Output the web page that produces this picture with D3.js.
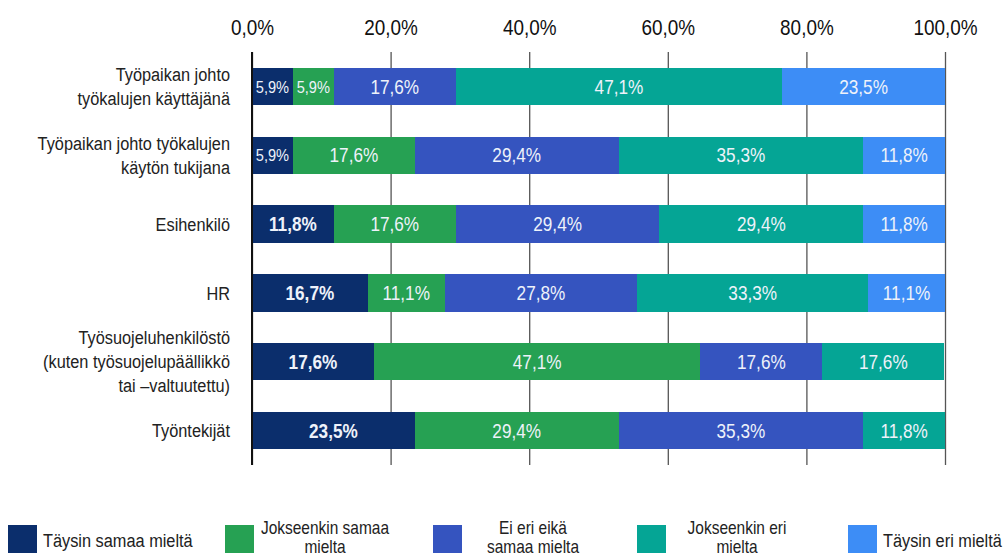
<!DOCTYPE html>
<html>
<head>
<meta charset="utf-8">
<script src="https://cdn.jsdelivr.net/npm/d3@7"></script>
<style>
  html, body { margin: 0; padding: 0; background: #fff; }
  svg { display: block; }
  text { font-family: "Liberation Sans", Arial, sans-serif; }
</style>
</head>
<body>
<div id="chart"></div>
<script>
// categories (one line per array item)
const categories = [
  ['Työpaikan johto', 'työkalujen käyttäjänä'],
  ['Työpaikan johto työkalujen', 'käytön tukijana'],
  ['Esihenkilö'],
  ['HR'],
  ['Työsuojeluhenkilöstö', '(kuten työsuojelupäällikkö', 'tai –valtuutettu)'],
  ['Työntekijät']
];

// series values (%), one per category
const taysinSamaa = [5.9, 5.9, 11.8, 16.7, 17.6, 23.5];
const jokseenkinSamaa = [5.9, 17.6, 17.6, 11.1, 47.1, 29.4];
const eiEriEika = [17.6, 29.4, 29.4, 27.8, 17.6, 35.3];
const jokseenkinEri = [47.1, 35.3, 29.4, 33.3, 17.6, 11.8];
const taysinEri = [23.5, 11.8, 11.8, 11.1, 0, 0];

const seriesNames = [
  ['Täysin samaa mieltä'],
  ['Jokseenkin samaa', 'mielta'],
  ['Ei eri eikä', 'samaa mielta'],
  ['Jokseenkin eri', 'mielta'],
  ['Täysin eri mieltä']
];
const seriesColors = ['#0b2e6c', '#26a153', '#3554bf', '#05a595', '#3d8df6'];

const xTicks = [0, 20, 40, 60, 80, 100];

const width = 1008, height = 558;
const margin = { top: 52, right: 63, bottom: 93, left: 252 };
const narrow = 0.86; // the original uses a condensed face

const svg = d3.select('#chart')
  .append('svg')
    .attr('width', width)
    .attr('height', height);

const keys = ['s0', 's1', 's2', 's3', 's4'];
const allSeries = [taysinSamaa, jokseenkinSamaa, eiEriEika, jokseenkinEri, taysinEri];
const rows = categories.map((c, i) => {
  const r = { id: i };
  keys.forEach((k, j) => r[k] = allSeries[j][i]);
  return r;
});

const stacked = d3.stack().keys(keys)(rows);

const xScale = d3.scaleLinear()
  .domain([0, 100])
  .range([margin.left, width - margin.right]);

const yScale = d3.scaleBand()
  .domain(rows.map(d => d.id))
  .range([margin.top, height - margin.bottom])
  .paddingInner(0.46)
  .paddingOuter(0.23);

const fmt = v => d3.format('.1f')(v).replace('.', ',') + '%';

// gridlines + top tick labels
const axisTop = d3.axisTop(xScale)
  .tickValues(xTicks)
  .tickSize(-(height - margin.bottom - margin.top))
  .tickFormat(fmt);

svg.append('g')
  .attr('transform', `translate(0, ${margin.top})`)
  .call(axisTop)
  .call(g => g.select('.domain').remove())
  .call(g => g.selectAll('.tick line').attr('stroke', '#555').attr('stroke-width', 1.3))
  .call(g => g.selectAll('.tick text')
    .attr('y', 0)
    .attr('dy', 0)
    .attr('transform', `translate(0, -17) scale(${narrow}, 1)`)
    .attr('fill', '#111')
    .style('font-family', '"Liberation Sans", Arial, sans-serif')
    .style('font-size', '22px'));

// bars
const layer = svg.append('g')
  .selectAll('g')
  .data(stacked)
  .join('g')
    .attr('fill', (d, i) => seriesColors[i]);

layer.selectAll('rect')
  .data(d => d)
  .join('rect')
    .attr('shape-rendering', 'crispEdges')
    .attr('x', d => xScale(d[0]))
    .attr('y', d => yScale(d.data.id))
    .attr('width', d => xScale(d[1]) - xScale(d[0]))
    .attr('height', yScale.bandwidth());

// bar value labels
layer.each(function(series, si) {
  d3.select(this).selectAll('text')
    .data(series.filter(d => d[1] - d[0] > 0))
    .join('text')
      .attr('transform', d => `translate(${(xScale(d[0]) + xScale(d[1])) / 2}, ${yScale(d.data.id) + yScale.bandwidth() / 2}) scale(${narrow}, 1)`)
      .attr('dy', '0.36em')
      .attr('text-anchor', 'middle')
      .attr('fill', '#eef2fa')
      .style('font-size', d => (d[1] - d[0]) < 7 ? '17px' : '20px')
      .style('font-weight', d => (si === 0 && (d[1] - d[0]) > 7) ? 'bold' : 'normal')
      .text(d => fmt(d[1] - d[0]));
});

// zero axis line
svg.append('line')
  .attr('x1', xScale(0)).attr('x2', xScale(0))
  .attr('y1', margin.top).attr('y2', height - margin.bottom)
  .attr('stroke', '#111')
  .attr('stroke-width', 2);

// category labels
const lineH = 24;
svg.append('g')
  .selectAll('text')
  .data(categories)
  .join('text')
    .attr('text-anchor', 'end')
    .attr('fill', '#222')
    .style('font-size', '19px')
    .attr('transform', (d, i) => `translate(${margin.left - 22}, ${yScale(i) + yScale.bandwidth() / 2}) scale(${narrow}, 1)`)
    .selectAll('tspan')
    .data(d => d.map((t, k) => ({ t, k, n: d.length })))
    .join('tspan')
      .attr('x', 0)
      .attr('y', d => (d.k - (d.n - 1) / 2) * lineH)
      .attr('dy', '0.35em')
      .text(d => d.t);

// legend
const legendX = [8, 225, 433, 637, 848];
const legend = svg.append('g')
  .attr('transform', 'translate(0, 525)');

const item = legend.selectAll('g')
  .data(seriesNames)
  .join('g')
    .attr('transform', (d, i) => `translate(${legendX[i]}, 0)`);

item.append('rect')
  .attr('width', 29)
  .attr('height', 28)
  .attr('fill', (d, i) => seriesColors[i]);

item.append('text')
  .attr('fill', '#222')
  .style('font-size', d => d.length > 1 ? '18px' : '19px')
  .attr('text-anchor', d => d.length > 1 ? 'middle' : 'start')
  .attr('transform', d => (d.length > 1 ? 'translate(100, 12)' : 'translate(35, 15)') + ` scale(${narrow}, 1)`)
  .selectAll('tspan')
  .data(d => d.map((t, k) => ({ t, k, n: d.length })))
  .join('tspan')
    .attr('x', 0)
    .attr('y', d => (d.k - (d.n - 1) / 2) * 19)
    .attr('dy', '0.35em')
    .text(d => d.t);
</script>
</body>
</html>
